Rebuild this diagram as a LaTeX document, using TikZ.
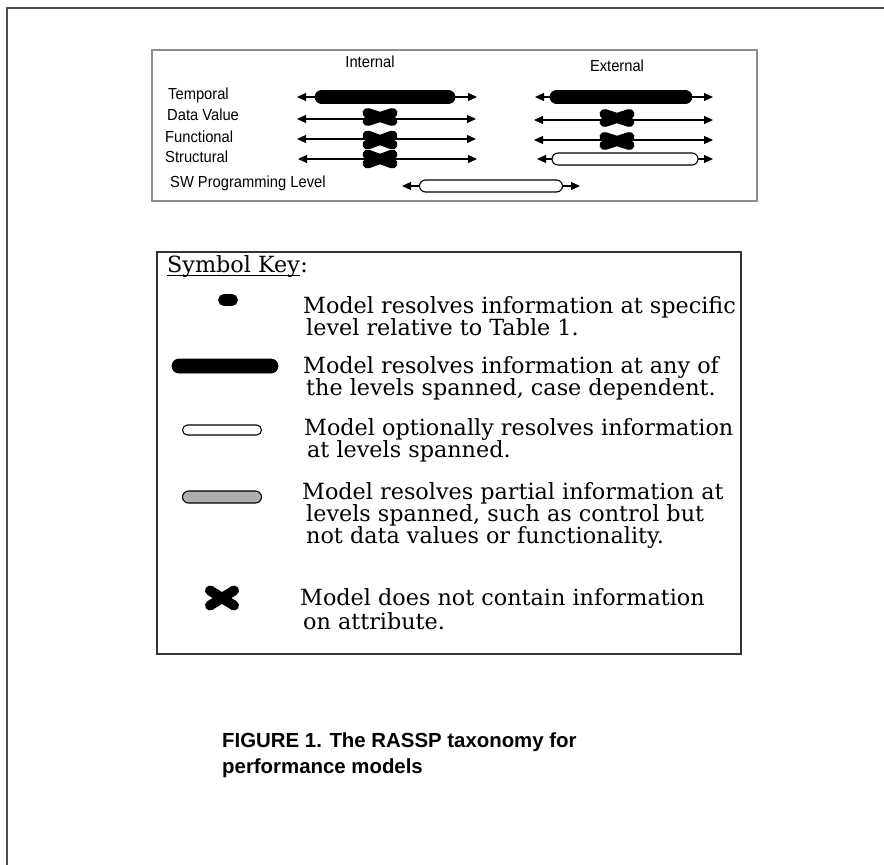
\documentclass[tikz,border=0pt]{standalone}
\usepackage{fontspec}
\setmainfont{DejaVu Serif}
\newfontfamily\labelsans[FakeStretch=0.92]{Liberation Sans}
\newfontfamily\capsans{Liberation Sans}
\usetikzlibrary{arrows.meta}

\tikzset{
  frameline/.style={draw=black!70, line width=2pt},
  taxobox/.style={draw=black!45, line width=1.3pt},
  keybox/.style={draw=black!80, line width=1.3pt},
  span/.style={line width=1.1pt, {Triangle[length=9pt,width=8pt]}-{Triangle[length=9pt,width=8pt]}},
  fullbar/.style={draw=black, fill=black, line width=0.8pt, inner sep=0pt, rounded corners=#1},
  optbar/.style={draw=black, fill=white, line width=1.1pt, inner sep=0pt, rounded corners=#1},
  partbar/.style={draw=black, fill=black!32, line width=1.1pt, inner sep=0pt, rounded corners=#1},
  rowlabel/.style={anchor=west, inner sep=0pt, font=\labelsans\fontsize{16}{18}\selectfont},
  keytext/.style={anchor=base west, inner sep=0pt, font=\fontsize{22.3}{24}\selectfont},
  caption/.style={anchor=base west, inner sep=0pt, font=\capsans\bfseries\fontsize{20.4}{24}\selectfont},
  pics/nox/.style n args={3}{code={
    \draw[line width=#3, line cap=round] (-#1,-#2) -- (#1,#2) (-#1,#2) -- (#1,-#2);
  }}
}

\begin{document}
\begin{tikzpicture}[x=1pt,y=-1pt]
\useasboundingbox (0,0) rectangle (884,865);

% page frame (top and left rules)
\coordinate (fr-bl) at (7,865);
\coordinate (fr-tl) at (7,8);
\coordinate (fr-tr) at (884,8);
\draw[frameline] (fr-bl) -- (fr-tl) -- (fr-tr);

% ---------------- taxonomy box ----------------
\draw[taxobox] (152,50) rectangle (757,201);

\node[inner sep=0pt, font=\labelsans\fontsize{16}{18}\selectfont] (hint) at (370,62) {Internal};
\node[inner sep=0pt, font=\labelsans\fontsize{16}{18}\selectfont] (hext) at (617,66) {External};

\node[rowlabel] (ltemp) at (168,95) {Temporal};
\node[rowlabel] (ldata) at (167,115) {Data Value};
\node[rowlabel] (lfunc) at (165,137) {Functional};
\node[rowlabel] (lstru) at (165,157) {Structural};
\node[rowlabel] (lsw)   at (170,183) {SW Programming Level};

% internal column
\coordinate (iT-l) at (297,97);  \coordinate (iT-r) at (477,97);
\coordinate (iD-l) at (297,119); \coordinate (iD-r) at (476,119);
\coordinate (iF-l) at (297,139); \coordinate (iF-r) at (476,139);
\coordinate (iS-l) at (298,159); \coordinate (iS-r) at (477,159);
\draw[span] (iT-l) -- (iT-r);
\draw[span] (iD-l) -- (iD-r);
\draw[span] (iF-l) -- (iF-r);
\draw[span] (iS-l) -- (iS-r);
\node[fullbar=6.5pt, minimum width=140pt, minimum height=13pt] (iT-bar) at (385,97) {};
\pic at (380,117) {nox={12.5}{4}{10pt}};
\pic at (380,140) {nox={12.5}{4.5}{10pt}};
\pic at (380,159) {nox={12.5}{4.5}{10pt}};

% external column
\coordinate (eT-l) at (535,97);  \coordinate (eT-r) at (713,97);
\coordinate (eD-l) at (534,120); \coordinate (eD-r) at (713,120);
\coordinate (eF-l) at (534,140); \coordinate (eF-r) at (713,140);
\coordinate (eS-l) at (537,159); \coordinate (eS-r) at (713,159);
\draw[span] (eT-l) -- (eT-r);
\draw[span] (eD-l) -- (eD-r);
\draw[span] (eF-l) -- (eF-r);
\draw[span] (eS-l) -- (eS-r);
\node[fullbar=6.5pt, minimum width=142pt, minimum height=13pt] (eT-bar) at (621,97) {};
\pic at (617,118) {nox={12.5}{4}{10pt}};
\pic at (617,141) {nox={12.5}{4}{10pt}};
\node[optbar=6pt, minimum width=146pt, minimum height=12pt] (eS-bar) at (625,159) {};

% software programming level
\coordinate (sw-l) at (402,186); \coordinate (sw-r) at (580,186);
\draw[span] (sw-l) -- (sw-r);
\node[optbar=6pt, minimum width=143pt, minimum height=12pt] (sw-bar) at (491,186) {};

% ---------------- symbol key ----------------
\draw[keybox] (157,252) rectangle (741,654);

\node[keytext] (kt) at (167,272) {Symbol Key};
\node[keytext, anchor=base west] (ktc) at (kt.base east) {:};
\draw[line width=0.8pt] ([yshift=-3pt]kt.base west) -- ([yshift=-3pt]kt.base east);

\node[fullbar=5.5pt, minimum width=19pt, minimum height=11pt] (sym1) at (228,300) {};
\node[keytext] (k1a) at (303,313) {Model resolves information at specific};
\node[keytext] (k1b) at (306,335) {level relative to Table 1.};

\node[fullbar=7pt, minimum width=106pt, minimum height=14pt] (sym2) at (225,366) {};
\node[keytext] (k2a) at (303,373) {Model resolves information at any of};
\node[keytext] (k2b) at (306,395) {the levels spanned, case dependent.};

\node[optbar=5pt, minimum width=79pt, minimum height=10pt] (sym3) at (222,430) {};
\node[keytext] (k3a) at (304,435) {Model optionally resolves information};
\node[keytext] (k3b) at (307,457) {at levels spanned.};

\node[partbar=6pt, minimum width=79pt, minimum height=12pt] (sym4) at (222,497) {};
\node[keytext] (k4a) at (302,499) {Model resolves partial information at};
\node[keytext] (k4b) at (306,521) {levels spanned, such as control but};
\node[keytext] (k4c) at (306,543) {not data values or functionality.};

\pic at (222,598) {nox={12}{7.5}{10pt}};
\node[keytext] (k5a) at (300,605) {Model does not contain information};
\node[keytext] (k5b) at (303,629) {on attribute.};

% ---------------- caption ----------------
\node[caption] (cap1) at (222,747) {FIGURE 1. The RASSP taxonomy for};
\node[caption] (cap2) at (222,773) {performance models};

\end{tikzpicture}
\end{document}
